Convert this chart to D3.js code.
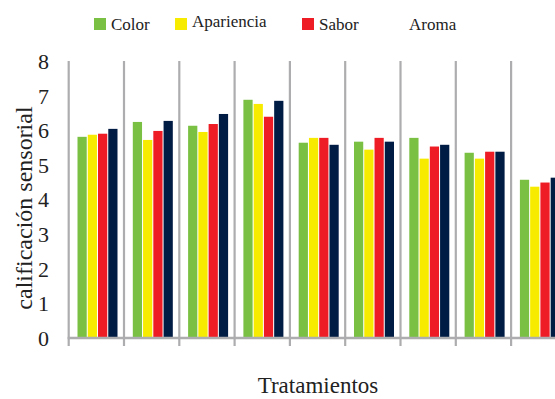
<!DOCTYPE html>
<html>
<head>
<meta charset="utf-8">
<script src="https://cdn.jsdelivr.net/npm/d3@7"></script>
<style>
html,body{margin:0;padding:0;background:#fff;overflow:hidden;}
svg{display:block;}
</style>
</head>
<body>
<svg id="chart" width="555" height="399"></svg>
<script>
// ---- data ----
const categories = ["T1","T2","T3","T4","T5","T6","T7","T8","T9"];
const seriesNames = ["Color","Apariencia","Sabor","Aroma"];
const seriesColors = ["#7AC143","#F7EC00","#EE1C25","#001B44"];
const color      = [5.81, 6.24, 6.13, 6.88, 5.64, 5.67, 5.78, 5.35, 4.57];
const apariencia = [5.87, 5.72, 5.95, 6.76, 5.78, 5.44, 5.18, 5.18, 4.37];
const sabor      = [5.90, 5.98, 6.18, 6.39, 5.78, 5.78, 5.53, 5.38, 4.49];
const aroma      = [6.04, 6.27, 6.47, 6.85, 5.58, 5.67, 5.58, 5.38, 4.63];
const yTicks = [0,1,2,3,4,5,6,7,8];
const yTitle = "calificación sensorial";
const xTitle = "Tratamientos";

const FONT = '"Liberation Serif", "Times New Roman", Times, serif';
const seriesValues = [color, apariencia, sabor, aroma];
const rows = categories.map((c,i)=>({cat:c, vals:seriesNames.map((s,j)=>({s, j, v:seriesValues[j][i]}))}));

const svg = d3.select("#chart");
const gray = "#ADADAF";

const x0 = d3.scaleBand().domain(categories).range([68.7, 68.7 + 9*55.3]).padding(0);
const x1 = d3.scaleBand().domain(seriesNames).range([8.8, 48.8]).paddingInner(0.1).paddingOuter(0);
const y = d3.scaleLinear().domain([0,8]).range([338, 61]);

// vertical gridlines at category boundaries
const bounds = categories.map(c => x0(c)).concat([x0.range()[1]]);
svg.append("g").selectAll("line").data(bounds).join("line")
  .attr("x1", d=>d).attr("x2", d=>d)
  .attr("y1", y(8)).attr("y2", 346)
  .attr("stroke", gray).attr("stroke-width", 2.2);

// bars
const groups = svg.append("g").selectAll("g").data(rows).join("g")
  .attr("transform", d=>`translate(${x0(d.cat)},0)`);
groups.selectAll("rect").data(d=>d.vals).join("rect")
  .attr("x", d=>x1(d.s))
  .attr("width", x1.bandwidth())
  .attr("y", d=>y(d.v))
  .attr("height", d=>y(0)-y(d.v))
  .attr("fill", d=>seriesColors[d.j]);

// baseline (x axis)
svg.append("line").attr("x1", 67.6).attr("x2", 555)
  .attr("y1", y(0)).attr("y2", y(0))
  .attr("stroke", gray).attr("stroke-width", 2.6);

// y axis labels
const yAxis = d3.axisLeft(y).tickValues(yTicks).tickSize(0).tickPadding(0).tickFormat(d3.format("d"));
const ya = svg.append("g").attr("transform","translate(49,0)").call(yAxis)
  .attr("font-family", FONT).attr("font-size", 22);
ya.select(".domain").remove();
ya.selectAll("text").attr("fill","#222").attr("dy","0.34em")
  .style("font-family", FONT).style("font-size","22px");

// y title
svg.append("text")
  .attr("transform","translate(32,208) rotate(-90)")
  .attr("text-anchor","middle")
  .style("font-family", FONT)
  .style("font-size","24px")
  .attr("fill","#222")
  .text(yTitle);

// x title
svg.append("text")
  .attr("x", 318).attr("y", 393)
  .attr("text-anchor","middle")
  .style("font-family", FONT)
  .style("font-size","23px")
  .attr("fill","#222")
  .text(xTitle);

// legend
const legendX = [94, 175, 302, 409];
const legendBase = [29.5, 27, 29.5, 29.5];
const lg = svg.append("g").selectAll("g").data(seriesNames).join("g");
lg.filter((d,i)=>i<3).append("rect")
  .attr("x",(d,i)=>legendX[i]).attr("y",18).attr("width",12).attr("height",12)
  .attr("fill",(d,i)=>seriesColors[i]);
lg.append("text")
  .attr("x",(d,i)=> i<3 ? legendX[i]+17 : legendX[i])
  .attr("y",(d,i)=>legendBase[i])
  .style("font-family", FONT)
  .style("font-size","17px")
  .attr("fill","#222")
  .text(d=>d);
</script>
</body>
</html>
